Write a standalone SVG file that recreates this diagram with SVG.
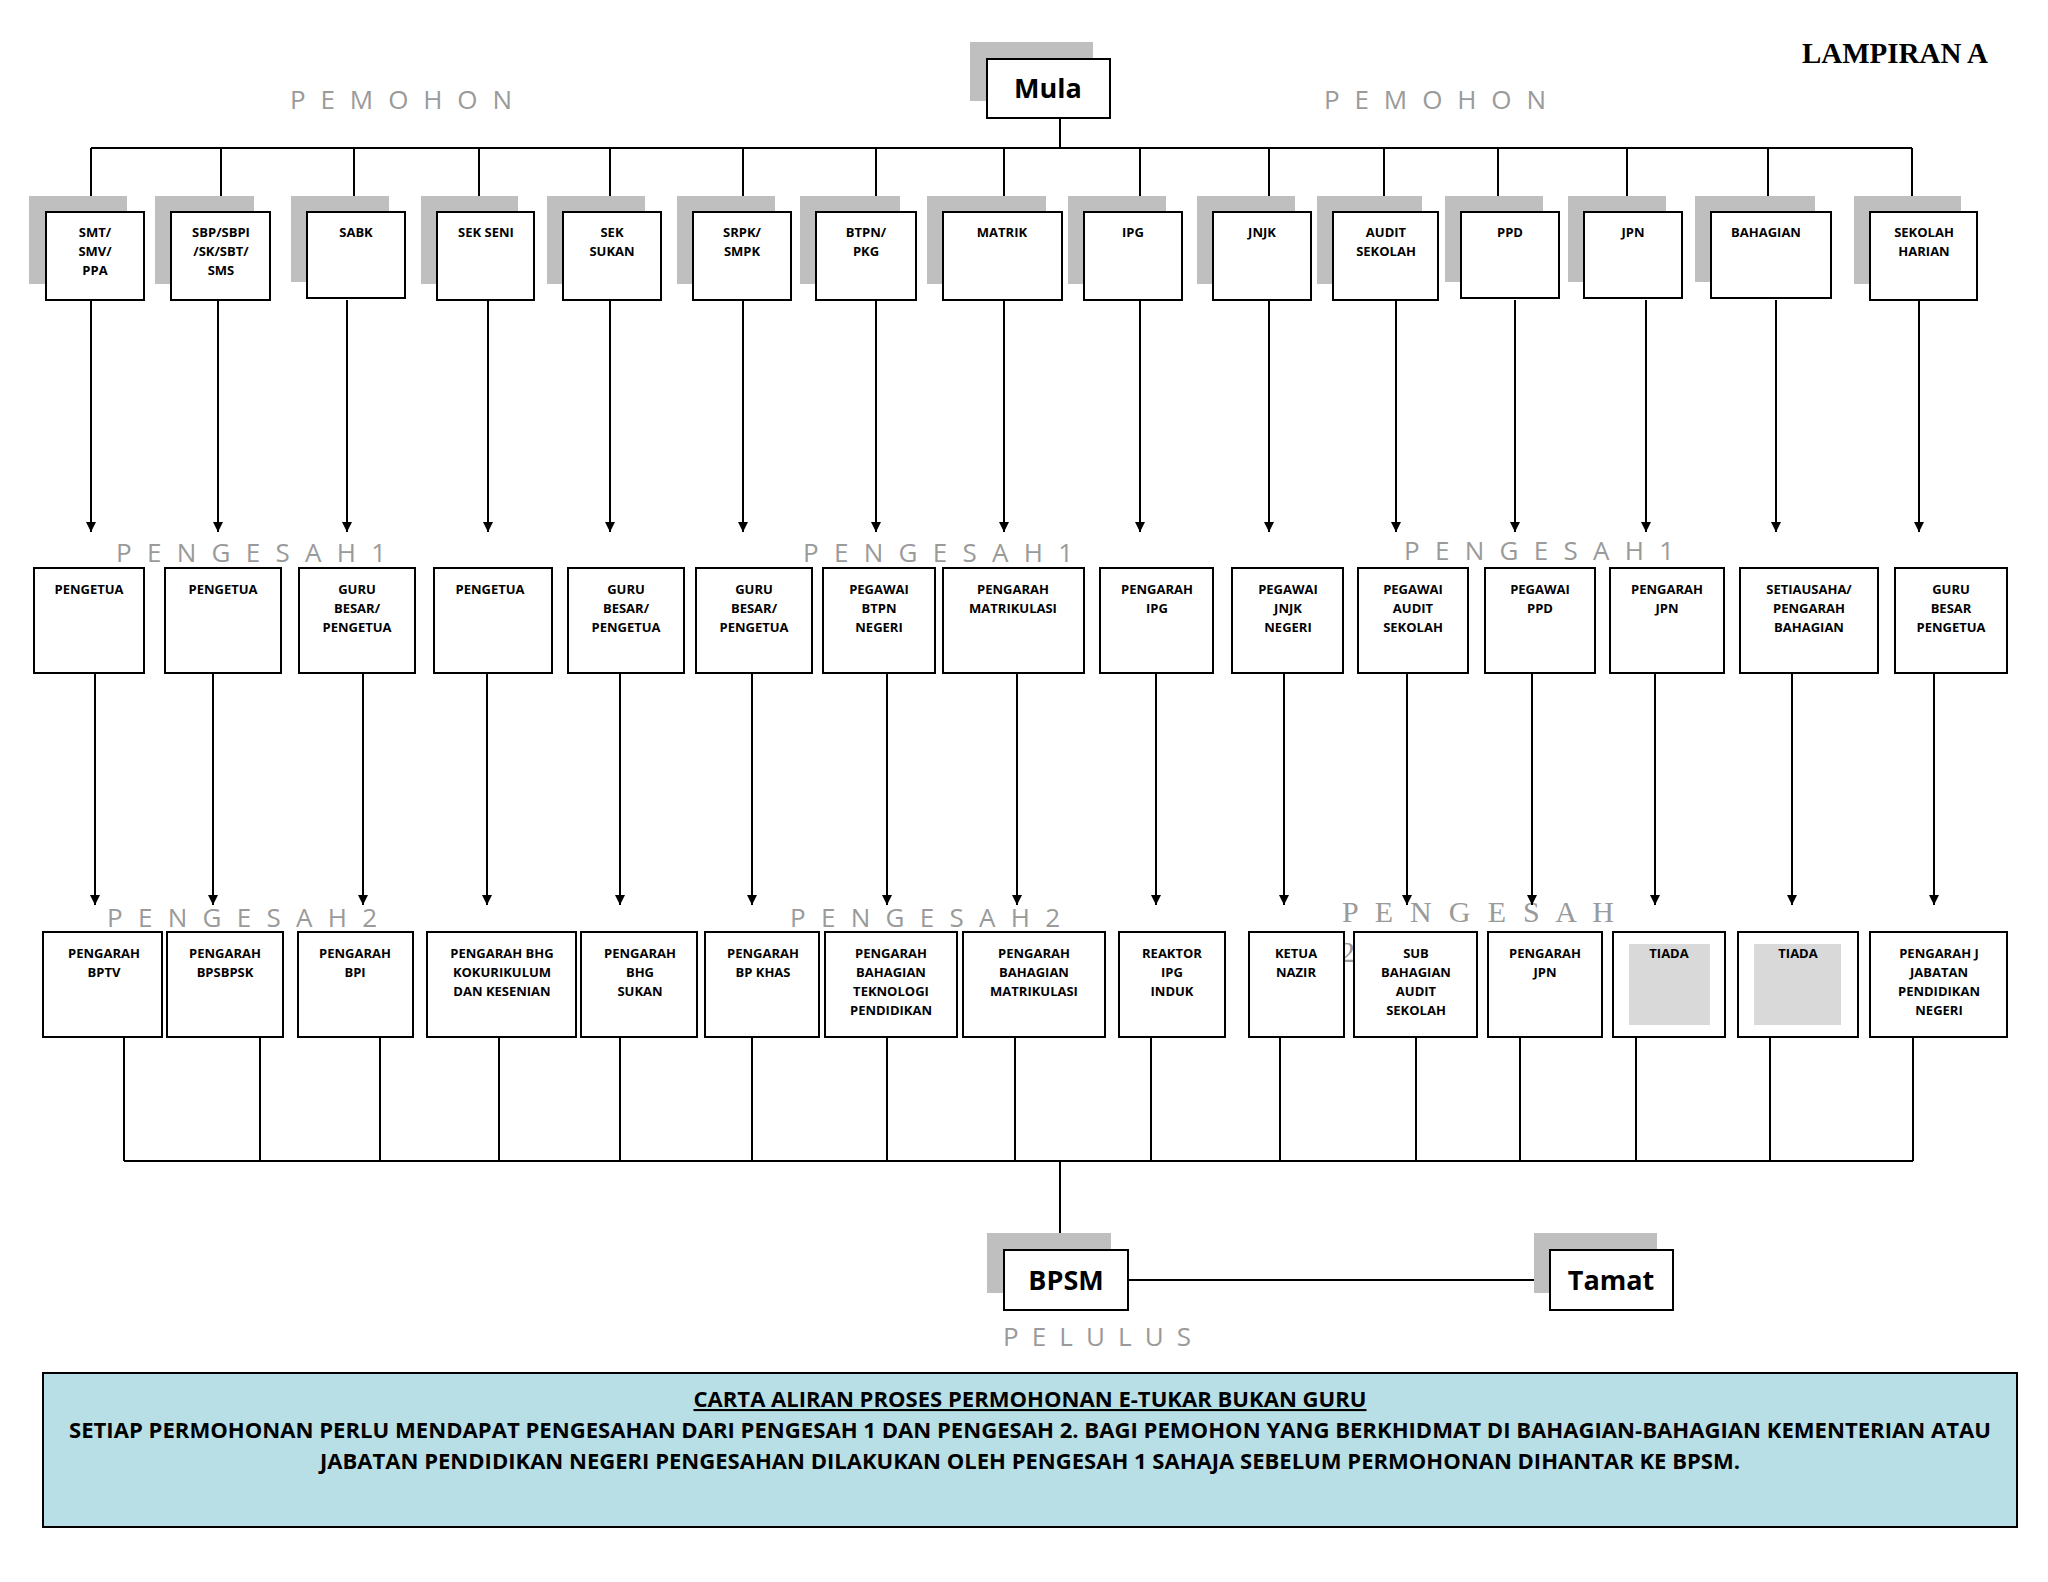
<svg xmlns="http://www.w3.org/2000/svg" width="2048" height="1582" viewBox="0 0 2048 1582">
<style>
.b{fill:#fff;stroke:#000;stroke-width:2}
.sh{fill:#bfbfbf}
.t{font-family:"Open Sans","Liberation Sans",sans-serif;font-weight:bold;font-size:13px;text-anchor:middle;fill:#000}
.big{font-family:"Open Sans","Liberation Sans",sans-serif;font-weight:bold;font-size:27px;text-anchor:middle}
.g{font-family:"Open Sans","Liberation Sans",sans-serif;font-size:26px;fill:#9a9a9a;text-anchor:middle}
.gs{font-family:"Liberation Serif",serif;font-size:30px;fill:#9a9a9a}
.l{stroke:#000;stroke-width:2;fill:none}
.ft{font-family:"Open Sans","Liberation Sans",sans-serif;font-weight:bold;font-size:21px;text-anchor:middle}
</style>
<defs><marker id="a" markerWidth="10" markerHeight="10" refX="10" refY="5" orient="auto" markerUnits="userSpaceOnUse" viewBox="0 0 10 10"><path d="M0,0 L10,5 L0,10z" fill="#000"/></marker></defs>
<rect width="2048" height="1582" fill="#fff"/>
<text x="1988" y="63" font-family="Liberation Serif,serif" font-weight="bold" font-size="29" text-anchor="end">LAMPIRAN A</text>
<text class="g" x="401" y="109" textLength="222">P E M O H O N</text>
<text class="g" x="1435" y="109" textLength="222">P E M O H O N</text>
<text class="g" x="251" y="562" textLength="270">P E N G E S A H 1</text>
<text class="g" x="938" y="562" textLength="270">P E N G E S A H 1</text>
<text class="g" x="1539" y="560" textLength="270">P E N G E S A H 1</text>
<text class="g" x="242" y="927" textLength="270">P E N G E S A H 2</text>
<text class="g" x="925" y="927" textLength="270">P E N G E S A H 2</text>
<text class="gs" x="1342" y="922" textLength="272">P E N G E S A H</text>
<text class="gs" x="1340" y="962">2</text>
<text class="g" x="1097" y="1346" textLength="188">P E L U L U S</text>

<g id="connectors">
<path class="l" d="M1060,118V148M91,148H1912"/>
<path class="l" d="M91,148V212M221,148V212M354,148V212M479,148V212M610,148V212M743,148V212M876,148V212M1004,148V212M1140,148V212M1269,148V212M1384,148V212M1498,148V212M1627,148V212M1768,148V212M1912,148V212"/>
<g class="l" marker-end="url(#a)">
<path d="M91,300V532"/><path d="M218,300V532"/><path d="M347,300V532"/><path d="M488,300V532"/><path d="M610,300V532"/><path d="M743,300V532"/><path d="M876,300V532"/><path d="M1004,300V532"/><path d="M1140,300V532"/><path d="M1269,300V532"/><path d="M1396,300V532"/><path d="M1515,300V532"/><path d="M1646,300V532"/><path d="M1776,300V532"/><path d="M1919,300V532"/>
<path d="M95,673V905"/><path d="M213,673V905"/><path d="M363,673V905"/><path d="M487,673V905"/><path d="M620,673V905"/><path d="M752,673V905"/><path d="M887,673V905"/><path d="M1017,673V905"/><path d="M1156,673V905"/><path d="M1284,673V905"/><path d="M1407,673V905"/><path d="M1532,673V905"/><path d="M1655,673V905"/><path d="M1792,673V905"/><path d="M1934,673V905"/>
<path d="M1060,1161V1250"/><path d="M1128,1280H1550"/>
</g>
<path class="l" d="M124,1037V1161M260,1037V1161M380,1037V1161M499,1037V1161M620,1037V1161M752,1037V1161M887,1037V1161M1015,1037V1161M1151,1037V1161M1280,1037V1161M1416,1037V1161M1520,1037V1161M1636,1037V1161M1770,1037V1161M1913,1037V1161M124,1161H1913"/>
</g>

<g id="mula"><rect class="sh" x="970" y="42" width="123" height="59"/><rect class="b" x="987" y="59" width="123" height="59"/><text class="big" x="1048" y="98">Mula</text></g>
<g id="bpsm"><rect class="sh" x="987" y="1233" width="124" height="60"/><rect class="b" x="1004" y="1250" width="124" height="60"/><text class="big" x="1066" y="1290">BPSM</text></g>
<g id="tamat"><rect class="sh" x="1534" y="1233" width="123" height="60"/><rect class="b" x="1550" y="1250" width="123" height="60"/><text class="big" x="1611" y="1290">Tamat</text></g>

<g id="r1-1"><rect class="sh" x="29" y="196" width="98" height="88"/><rect class="b" x="46" y="212" width="98" height="88"/><text class="t" x="95" y="237">SMT/</text><text class="t" x="95" y="256">SMV/</text><text class="t" x="95" y="275">PPA</text></g>
<g id="r1-2"><rect class="sh" x="155" y="196" width="99" height="88"/><rect class="b" x="171" y="212" width="99" height="88"/><text class="t" x="221" y="237">SBP/SBPI</text><text class="t" x="221" y="256">/SK/SBT/</text><text class="t" x="221" y="275">SMS</text></g>
<g id="r1-3"><rect class="sh" x="291" y="196" width="98" height="86"/><rect class="b" x="307" y="212" width="98" height="86"/><text class="t" x="356" y="237">SABK</text></g>
<g id="r1-4"><rect class="sh" x="421" y="196" width="97" height="88"/><rect class="b" x="437" y="212" width="97" height="88"/><text class="t" x="486" y="237">SEK SENI</text></g>
<g id="r1-5"><rect class="sh" x="547" y="196" width="98" height="88"/><rect class="b" x="563" y="212" width="98" height="88"/><text class="t" x="612" y="237">SEK</text><text class="t" x="612" y="256">SUKAN</text></g>
<g id="r1-6"><rect class="sh" x="677" y="196" width="98" height="88"/><rect class="b" x="693" y="212" width="98" height="88"/><text class="t" x="742" y="237">SRPK/</text><text class="t" x="742" y="256">SMPK</text></g>
<g id="r1-7"><rect class="sh" x="800" y="196" width="100" height="88"/><rect class="b" x="816" y="212" width="100" height="88"/><text class="t" x="866" y="237">BTPN/</text><text class="t" x="866" y="256">PKG</text></g>
<g id="r1-8"><rect class="sh" x="927" y="196" width="119" height="88"/><rect class="b" x="943" y="212" width="119" height="88"/><text class="t" x="1002" y="237">MATRIK</text></g>
<g id="r1-9"><rect class="sh" x="1068" y="196" width="98" height="88"/><rect class="b" x="1084" y="212" width="98" height="88"/><text class="t" x="1133" y="237">IPG</text></g>
<g id="r1-10"><rect class="sh" x="1197" y="196" width="98" height="88"/><rect class="b" x="1213" y="212" width="98" height="88"/><text class="t" x="1262" y="237">JNJK</text></g>
<g id="r1-11"><rect class="sh" x="1317" y="196" width="105" height="88"/><rect class="b" x="1333" y="212" width="105" height="88"/><text class="t" x="1386" y="237">AUDIT</text><text class="t" x="1386" y="256">SEKOLAH</text></g>
<g id="r1-12"><rect class="sh" x="1445" y="196" width="98" height="86"/><rect class="b" x="1461" y="212" width="98" height="86"/><text class="t" x="1510" y="237">PPD</text></g>
<g id="r1-13"><rect class="sh" x="1568" y="196" width="98" height="86"/><rect class="b" x="1584" y="212" width="98" height="86"/><text class="t" x="1633" y="237">JPN</text></g>
<g id="r1-14"><rect class="sh" x="1695" y="196" width="120" height="86"/><rect class="b" x="1711" y="212" width="120" height="86"/><text class="t" x="1766" y="237">BAHAGIAN</text></g>
<g id="r1-15"><rect class="sh" x="1854" y="196" width="107" height="88"/><rect class="b" x="1870" y="212" width="107" height="88"/><text class="t" x="1924" y="237">SEKOLAH</text><text class="t" x="1924" y="256">HARIAN</text></g>

<g id="r2-1"><rect class="b" x="34" y="568" width="110" height="105"/><text class="t" x="89" y="594">PENGETUA</text></g>
<g id="r2-2"><rect class="b" x="165" y="568" width="116" height="105"/><text class="t" x="223" y="594">PENGETUA</text></g>
<g id="r2-3"><rect class="b" x="299" y="568" width="116" height="105"/><text class="t" x="357" y="594">GURU</text><text class="t" x="357" y="613">BESAR/</text><text class="t" x="357" y="632">PENGETUA</text></g>
<g id="r2-4"><rect class="b" x="434" y="568" width="118" height="105"/><text class="t" x="490" y="594">PENGETUA</text></g>
<g id="r2-5"><rect class="b" x="568" y="568" width="116" height="105"/><text class="t" x="626" y="594">GURU</text><text class="t" x="626" y="613">BESAR/</text><text class="t" x="626" y="632">PENGETUA</text></g>
<g id="r2-6"><rect class="b" x="696" y="568" width="116" height="105"/><text class="t" x="754" y="594">GURU</text><text class="t" x="754" y="613">BESAR/</text><text class="t" x="754" y="632">PENGETUA</text></g>
<g id="r2-7"><rect class="b" x="823" y="568" width="112" height="105"/><text class="t" x="879" y="594">PEGAWAI</text><text class="t" x="879" y="613">BTPN</text><text class="t" x="879" y="632">NEGERI</text></g>
<g id="r2-8"><rect class="b" x="943" y="568" width="141" height="105"/><text class="t" x="1013" y="594">PENGARAH</text><text class="t" x="1013" y="613">MATRIKULASI</text></g>
<g id="r2-9"><rect class="b" x="1100" y="568" width="113" height="105"/><text class="t" x="1157" y="594">PENGARAH</text><text class="t" x="1157" y="613">IPG</text></g>
<g id="r2-10"><rect class="b" x="1232" y="568" width="111" height="105"/><text class="t" x="1288" y="594">PEGAWAI</text><text class="t" x="1288" y="613">JNJK</text><text class="t" x="1288" y="632">NEGERI</text></g>
<g id="r2-11"><rect class="b" x="1358" y="568" width="110" height="105"/><text class="t" x="1413" y="594">PEGAWAI</text><text class="t" x="1413" y="613">AUDIT</text><text class="t" x="1413" y="632">SEKOLAH</text></g>
<g id="r2-12"><rect class="b" x="1485" y="568" width="110" height="105"/><text class="t" x="1540" y="594">PEGAWAI</text><text class="t" x="1540" y="613">PPD</text></g>
<g id="r2-13"><rect class="b" x="1610" y="568" width="114" height="105"/><text class="t" x="1667" y="594">PENGARAH</text><text class="t" x="1667" y="613">JPN</text></g>
<g id="r2-14"><rect class="b" x="1740" y="568" width="138" height="105"/><text class="t" x="1809" y="594">SETIAUSAHA/</text><text class="t" x="1809" y="613">PENGARAH</text><text class="t" x="1809" y="632">BAHAGIAN</text></g>
<g id="r2-15"><rect class="b" x="1895" y="568" width="112" height="105"/><text class="t" x="1951" y="594">GURU</text><text class="t" x="1951" y="613">BESAR</text><text class="t" x="1951" y="632">PENGETUA</text></g>

<g id="r3-1"><rect class="b" x="43" y="932" width="119" height="105"/><text class="t" x="104" y="958">PENGARAH</text><text class="t" x="104" y="977">BPTV</text></g>
<g id="r3-2"><rect class="b" x="167" y="932" width="116" height="105"/><text class="t" x="225" y="958">PENGARAH</text><text class="t" x="225" y="977">BPSBPSK</text></g>
<g id="r3-3"><rect class="b" x="298" y="932" width="115" height="105"/><text class="t" x="355" y="958">PENGARAH</text><text class="t" x="355" y="977">BPI</text></g>
<g id="r3-4"><rect class="b" x="427" y="932" width="149" height="105"/><text class="t" x="502" y="958">PENGARAH BHG</text><text class="t" x="502" y="977">KOKURIKULUM</text><text class="t" x="502" y="996">DAN KESENIAN</text></g>
<g id="r3-5"><rect class="b" x="581" y="932" width="116" height="105"/><text class="t" x="640" y="958">PENGARAH</text><text class="t" x="640" y="977">BHG</text><text class="t" x="640" y="996">SUKAN</text></g>
<g id="r3-6"><rect class="b" x="705" y="932" width="114" height="105"/><text class="t" x="763" y="958">PENGARAH</text><text class="t" x="763" y="977">BP KHAS</text></g>
<g id="r3-7"><rect class="b" x="825" y="932" width="132" height="105"/><text class="t" x="891" y="958">PENGARAH</text><text class="t" x="891" y="977">BAHAGIAN</text><text class="t" x="891" y="996">TEKNOLOGI</text><text class="t" x="891" y="1015">PENDIDIKAN</text></g>
<g id="r3-8"><rect class="b" x="963" y="932" width="142" height="105"/><text class="t" x="1034" y="958">PENGARAH</text><text class="t" x="1034" y="977">BAHAGIAN</text><text class="t" x="1034" y="996">MATRIKULASI</text></g>
<g id="r3-9"><rect class="b" x="1119" y="932" width="106" height="105"/><text class="t" x="1172" y="958">REAKTOR</text><text class="t" x="1172" y="977">IPG</text><text class="t" x="1172" y="996">INDUK</text></g>
<g id="r3-10"><rect class="b" x="1249" y="932" width="95" height="105"/><text class="t" x="1296" y="958">KETUA</text><text class="t" x="1296" y="977">NAZIR</text></g>
<g id="r3-11"><rect class="b" x="1354" y="932" width="123" height="105"/><text class="t" x="1416" y="958">SUB</text><text class="t" x="1416" y="977">BAHAGIAN</text><text class="t" x="1416" y="996">AUDIT</text><text class="t" x="1416" y="1015">SEKOLAH</text></g>
<g id="r3-12"><rect class="b" x="1488" y="932" width="114" height="105"/><text class="t" x="1545" y="958">PENGARAH</text><text class="t" x="1545" y="977">JPN</text></g>
<g id="r3-13"><rect class="b" x="1613" y="932" width="112" height="105"/><rect x="1629" y="944" width="81" height="81" fill="#d9d9d9"/><text class="t" x="1669" y="958">TIADA</text></g>
<g id="r3-14"><rect class="b" x="1738" y="932" width="120" height="105"/><rect x="1754" y="944" width="87" height="81" fill="#d9d9d9"/><text class="t" x="1798" y="958">TIADA</text></g>
<g id="r3-15"><rect class="b" x="1870" y="932" width="137" height="105"/><text class="t" x="1939" y="958">PENGARAH J</text><text class="t" x="1939" y="977">JABATAN</text><text class="t" x="1939" y="996">PENDIDIKAN</text><text class="t" x="1939" y="1015">NEGERI</text></g>

<g id="note"><rect x="43" y="1373" width="1974" height="154" fill="#b8dfe6" stroke="#000" stroke-width="2"/>
<text class="ft" x="1030" y="1407" text-decoration="underline" textLength="673" lengthAdjust="spacingAndGlyphs">CARTA ALIRAN PROSES PERMOHONAN E-TUKAR BUKAN GURU</text>
<text class="ft" x="1030" y="1438" textLength="1922" lengthAdjust="spacingAndGlyphs">SETIAP PERMOHONAN PERLU MENDAPAT PENGESAHAN DARI PENGESAH 1 DAN PENGESAH 2. BAGI PEMOHON YANG BERKHIDMAT DI BAHAGIAN-BAHAGIAN KEMENTERIAN ATAU</text>
<text class="ft" x="1030" y="1469" textLength="1420" lengthAdjust="spacingAndGlyphs">JABATAN PENDIDIKAN NEGERI PENGESAHAN DILAKUKAN OLEH PENGESAH 1 SAHAJA SEBELUM PERMOHONAN DIHANTAR KE BPSM.</text>
</g>
</svg>
